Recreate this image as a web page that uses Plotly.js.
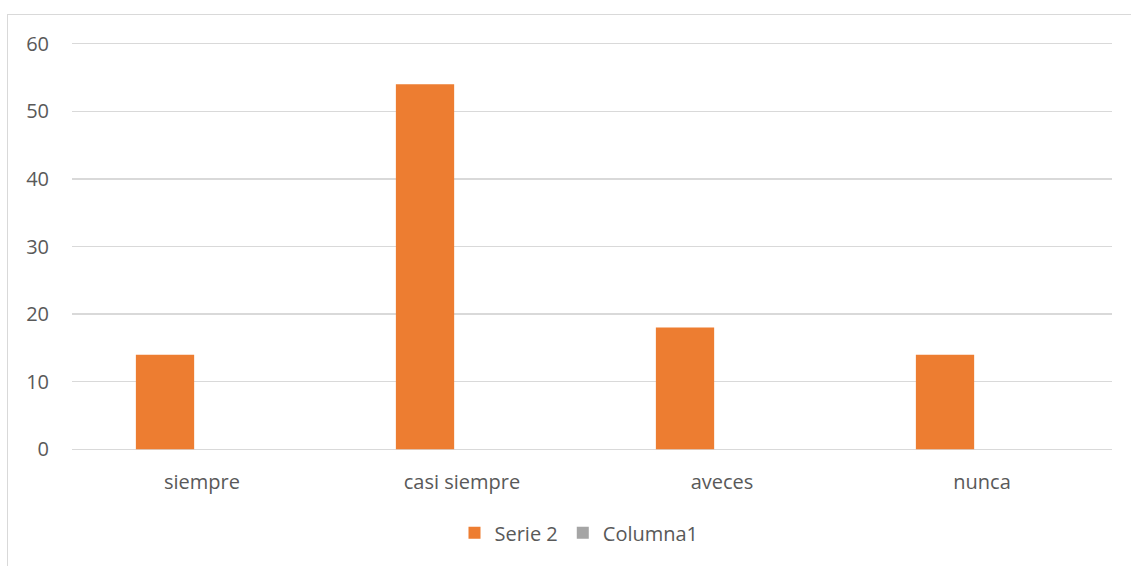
<!DOCTYPE html>
<html>
<head>
<meta charset="utf-8">
<script src="https://cdn.plot.ly/plotly-3.0.1.min.js"></script>
<style>
  html, body { margin: 0; padding: 0; background: #ffffff; overflow: hidden; }
  #frame { position: absolute; left: 7px; top: 14px; width: 1200px; height: 600px; border: 1px solid #D9D9D9; box-sizing: border-box; }
  #chart { position: absolute; left: 0; top: 0; width: 1131px; height: 566px; }
</style>
</head>
<body>
<div id="frame"></div>
<div id="chart"></div>
<script>
const categories = ["siempre", "casi siempre", "aveces", "nunca"];
const serie2Values = [14, 54, 18, 14];
const columna1Values = [0, 0, 0, 0];
const yTicks = [0, 10, 20, 30, 40, 50, 60];

const textColor = "#595959";
const fontFamily = "'Open Sans', 'Noto Sans', sans-serif";

const traces = [
  {
    type: "bar",
    name: "Serie 2",
    x: categories,
    y: serie2Values,
    marker: { color: "#ED7D31", line: { width: 0 } },
    hoverinfo: "none"
  },
  {
    type: "bar",
    name: "Columna1",
    x: categories,
    y: columna1Values,
    marker: { color: "#A5A5A5", line: { width: 0 } },
    hoverinfo: "none"
  }
];

const layout = {
  width: 1131,
  height: 566,
  margin: { l: 72, r: 19, t: 42, b: 115 },
  paper_bgcolor: "rgba(0,0,0,0)",
  plot_bgcolor: "rgba(0,0,0,0)",
  font: { family: fontFamily, size: 20, color: textColor },
  barmode: "group",
  bargap: 0.431,
  bargroupgap: 0.212,
  showlegend: true,
  legend: {
    orientation: "h",
    x: 0.4875,
    xanchor: "center",
    y: -0.2,
    yanchor: "middle",
    font: { family: fontFamily, size: 20, color: textColor },
    itemclick: false,
    itemdoubleclick: false
  },
  xaxis: {
    type: "category",
    showgrid: false,
    zeroline: false,
    showline: false,
    ticks: "",
    ticklabelstandoff: 17,
    tickfont: { family: fontFamily, size: 20, color: textColor },
    fixedrange: true
  },
  yaxis: {
    range: [-0.25, 60.25],
    tickvals: yTicks,
    ticktext: yTicks.map(String),
    showgrid: true,
    gridcolor: "#D9D9D9",
    gridwidth: 1.3,
    zeroline: false,
    showline: false,
    ticks: "",
    ticklabelstandoff: 22,
    tickfont: { family: fontFamily, size: 20, color: textColor },
    fixedrange: true
  }
};

Plotly.newPlot("chart", traces, layout, { displayModeBar: false, staticPlot: true });
</script>
</body>
</html>
